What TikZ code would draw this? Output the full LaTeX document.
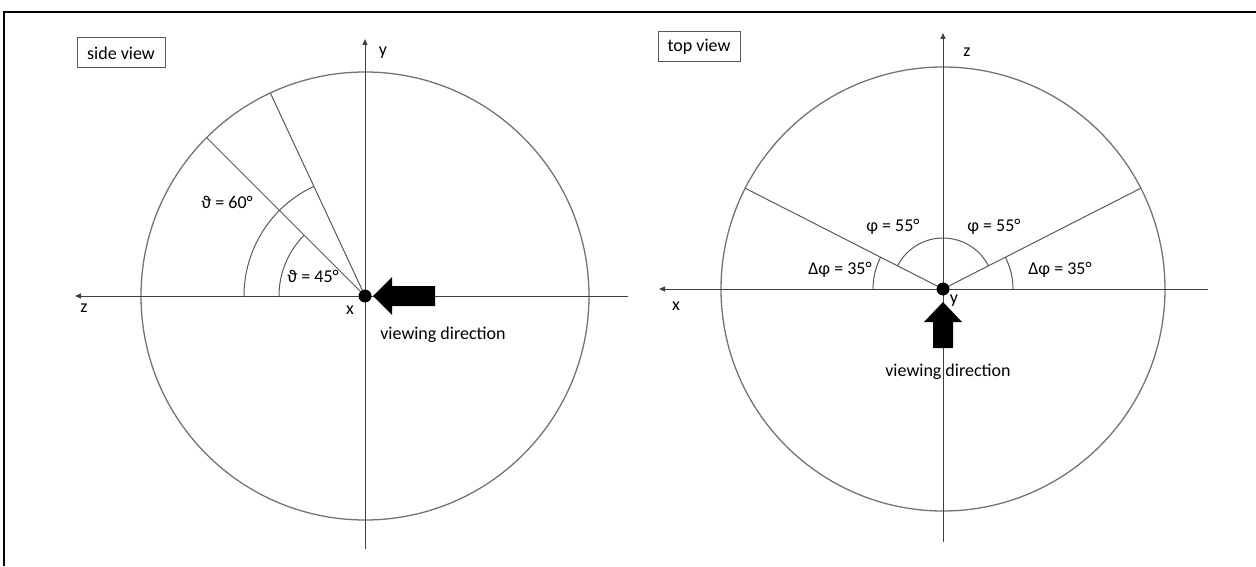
\documentclass[tikz,border=0pt]{standalone}
\usepackage{fontspec}
\setmainfont{Carlito}
\usetikzlibrary{arrows.meta}

\begin{document}
\begin{tikzpicture}[x=1pt, y=1pt,
  axis/.style={draw=black!75, line width=1pt, -{Triangle[length=6pt,width=5pt]}},
  ring/.style={draw=black!55, line width=1.3pt},
  ray/.style={draw=black!65, line width=1pt},
  lbl/.style={inner sep=0pt, font=\fontsize{18}{21}\selectfont},
  viewbox/.style={lbl, draw=black!65, line width=1pt, minimum height=30pt},
  dot/.style={circle, fill=black, inner sep=0pt, minimum size=13pt}]

\useasboundingbox (0,0) rectangle (1256,566);

% frame (top and left edge only)
\draw[line width=2pt] (4,0) |- (1256,554);

% --- SIDE VIEW ---

\coordinate (oS) at (365,270);
\coordinate (yS_bot) at (365,17);
\coordinate (yS_top) at (365,527);
\coordinate (zS_rgt) at (628,270);
\coordinate (zS_lft) at (75,270);

\draw[ring] (oS) circle[radius=224pt];
\draw[axis] (yS_bot) -- (yS_top);
\draw[axis] (zS_rgt) -- (zS_lft);

% Rays and angle arcs
\draw[ray] (oS) -- ++(135:224pt);
\draw[ray] (oS) -- ++(115:224pt);
\draw[ray] (oS) ++(-86pt,0) arc[start angle=180, end angle=135, radius=86pt];
\draw[ray] (oS) ++(-121pt,0) arc[start angle=180, end angle=115, radius=121pt];

\node[lbl] (thS45) at (313,290) {ϑ = 45°};
\node[lbl] (thS60) at (227,364) {ϑ = 60°};

% Viewing arrow
\node[dot] (ctrS) at (oS) {};
\fill ([xshift=8pt]oS) -- ++(19,19) -- ++(0,-9) -- ++(43,0) -- ++(0,-20)
      -- ++(-43,0) -- ++(0,-9) -- cycle;

\node[lbl] (yS) at (383,513) {y};
\node[lbl] (zS) at (84,258) {z};
\node[lbl] (xS) at (350,256) {x};
\node[lbl] (vdS) at (443,231) {viewing direction};
\node[viewbox, minimum width=88pt] (boxS) at (121,513) {side view};


% --- TOP VIEW ---

\coordinate (oT) at (943,277);
\coordinate (zT_bot) at (943,24);
\coordinate (zT_top) at (943,533);
\coordinate (xT_rgt) at (1208,277);
\coordinate (xT_lft) at (659,277);

\draw[ring] (oT) circle[radius=222pt];
\draw[axis] (zT_bot) -- (zT_top);
\draw[axis] (xT_rgt) -- (xT_lft);

% Rays and angle arcs
\draw[ray] (oT) -- ++(153:222pt);
\draw[ray] (oT) -- ++(27:222pt);
\draw[ray] (oT) ++(-70pt,0) arc[start angle=180, end angle=153, radius=70pt];
\draw[ray] (oT) ++(70pt,0) arc[start angle=0, end angle=27, radius=70pt];
\draw[ray] (oT) ++(27:51pt) arc[start angle=27, end angle=153, radius=51pt];

\node[lbl] (phT_l) at (893,339) {φ = 55°};
\node[lbl] (phT_r) at (994,339) {φ = 55°};
\node[lbl] (dphT_l) at (840,296) {Δφ = 35°};
\node[lbl] (dphT_r) at (1060,296) {Δφ = 35°};

% Viewing arrow
\node[dot] (ctrT) at (oT) {};
\fill ([yshift=-13pt]oT) -- ++(19,-20) -- ++(-9,0) -- ++(0,-26) -- ++(-20,0)
      -- ++(0,26) -- ++(-9,0) -- cycle;

\node[lbl] (zT) at (967,514) {z};
\node[lbl] (yT) at (954,265) {y};
\node[lbl] (xT) at (676,260) {x};
\node[lbl] (vdT) at (948,194) {viewing direction};
\node[viewbox, minimum width=82pt] (boxT) at (699,519) {top view};

\end{tikzpicture}
\end{document}
